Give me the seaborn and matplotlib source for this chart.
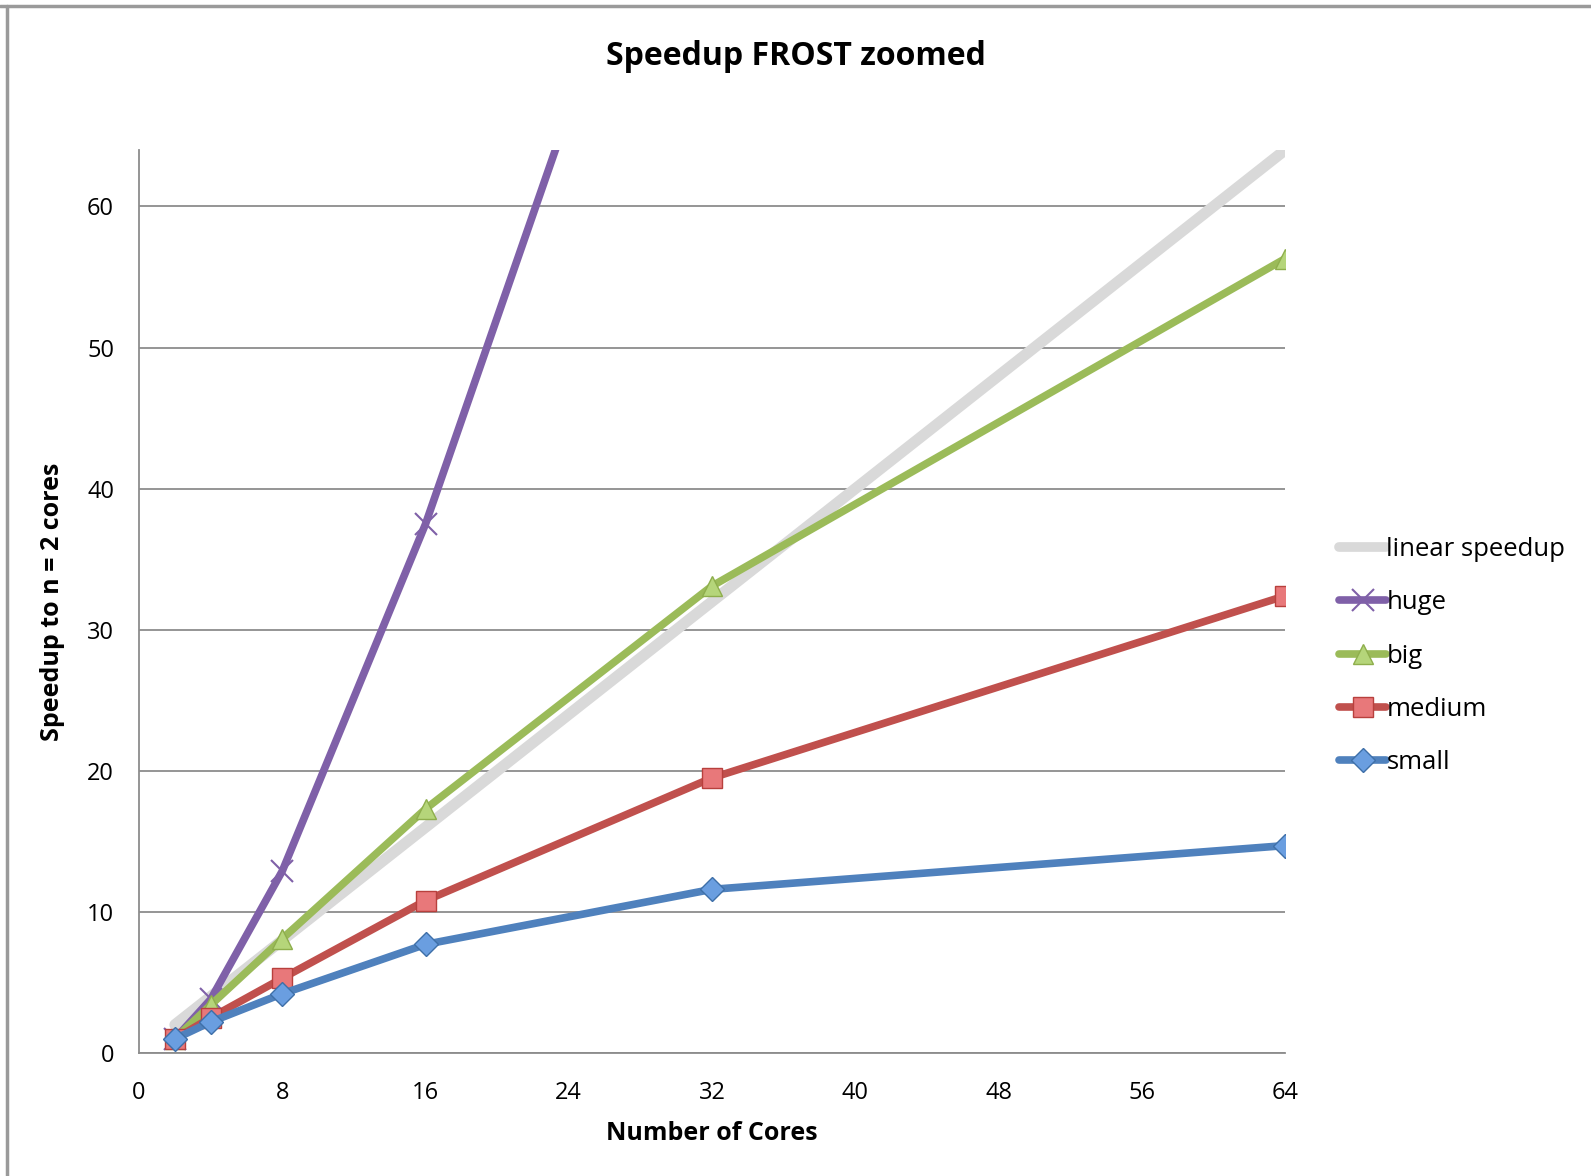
import matplotlib
matplotlib.use("Agg")
import matplotlib.pyplot as plt
from matplotlib.lines import Line2D
import seaborn as sns
import pandas as pd

# Core counts and measured speedups relative to a 2-core run
cores = [2, 4, 8, 16, 32, 64]
linear_speedup = [2, 64]
linear_cores = [2, 64]
huge = [1.0, 3.8, 12.9, 37.5, 96.0, 150.0]
big = [1.0, 3.4, 8.1, 17.3, 33.1, 56.3]
medium = [1.0, 2.5, 5.3, 10.8, 19.5, 32.4]
small = [1.0, 2.2, 4.2, 7.7, 11.6, 14.7]

x_ticks = [0, 8, 16, 24, 32, 40, 48, 56, 64]
y_ticks = [0, 10, 20, 30, 40, 50, 60]

sns.set_theme(style="white")
plt.rcParams["font.family"] = ["Open Sans", "DejaVu Sans"]
plt.rcParams["text.color"] = "black"
plt.rcParams["axes.labelcolor"] = "black"

fig = plt.figure(figsize=(15.91, 11.76), dpi=100)
ax = fig.add_axes([0.0874, 0.1046, 0.7203, 0.7678])

series = [
    ("huge", huge, "#7F60A8", "x", "#7F60A8", "#7F60A8", 16),
    ("big", big, "#9BBB59", "^", "#B5D57A", "#8EAE4C", 15),
    ("medium", medium, "#C0504D", "s", "#E8787A", "#B8403D", 15),
    ("small", small, "#4F81BD", "D", "#6A9EE0", "#3E6FA8", 12),
]

sns.lineplot(x=linear_cores, y=linear_speedup, ax=ax, color="#D9D9D9",
             linewidth=8, solid_capstyle="round", zorder=2)

handles = [Line2D([], [], color="#D9D9D9", linewidth=7, solid_capstyle="round")]
labels = ["linear speedup"]
for i, (name, vals, col, mk, mfc, mec, ms) in enumerate(series):
    df = pd.DataFrame({"cores": cores, "speedup": vals})
    sns.lineplot(data=df, x="cores", y="speedup", ax=ax, color=col,
                 linewidth=5.5, marker=mk, markersize=ms,
                 markerfacecolor=mfc, markeredgecolor=mec,
                 markeredgewidth=1.5 if mk == "x" else 1.0,
                 solid_capstyle="round", zorder=3 + i)
    handles.append(Line2D([], [], color=col, linewidth=5.5, marker=mk,
                          markersize=ms, markerfacecolor=mfc,
                          markeredgecolor=mec,
                          markeredgewidth=1.5 if mk == "x" else 1.0,
                          solid_capstyle="round"))
    labels.append(name)

ax.set_xlim(0, 64)
ax.set_ylim(0, 64)
ax.set_xticks(x_ticks)
ax.set_yticks(y_ticks)
ax.tick_params(axis="both", labelsize=17, labelcolor="#000000", length=8,
               width=1.2, direction="out", color="#8C8C8C")
ax.tick_params(axis="x", pad=12)
ax.tick_params(axis="y", pad=10)
ax.yaxis.grid(True, color="#8C8C8C", linewidth=1.3)
ax.xaxis.grid(False)
ax.set_axisbelow(True)
for side in ["top", "right"]:
    ax.spines[side].set_visible(False)
for side in ["left", "bottom"]:
    ax.spines[side].set_color("#8C8C8C")
    ax.spines[side].set_linewidth(1.3)

ax.set_xlabel("Number of Cores", fontsize=18, fontweight="bold", labelpad=12)
ax.set_ylabel("Speedup to n = 2 cores", fontsize=18, fontweight="bold", labelpad=16)
fig.text(0.5, 0.952, "Speedup FROST zoomed", ha="center", va="center",
         fontsize=23, fontweight="bold")

leg = fig.legend(handles, labels, loc="upper left",
                 bbox_to_anchor=(0.827, 0.563), frameon=False, fontsize=18.5,
                 handlelength=1.85, handletextpad=0.0, labelspacing=1.1)

# Outer chart border
fig.add_artist(Line2D([0.0, 1.0], [0.9945, 0.9945], transform=fig.transFigure,
                      color="#9A9A9A", linewidth=2.5))
fig.add_artist(Line2D([0.0045, 0.0045], [0.0, 0.9945], transform=fig.transFigure,
                      color="#9A9A9A", linewidth=2.5))

fig.savefig("out.png", dpi=100)
